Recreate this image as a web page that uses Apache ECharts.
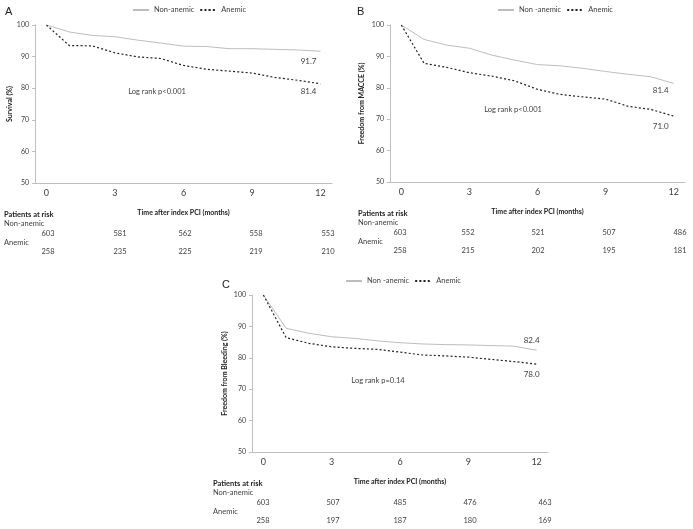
<!DOCTYPE html>
<html><head><meta charset="utf-8">
<script src="https://cdn.jsdelivr.net/npm/echarts@6/dist/echarts.min.js"></script>
<style>html,body{margin:0;padding:0;background:#fff}#c{width:693px;height:529px}</style>
</head><body><div id="c"></div>
<script>
var months = ['0','1','2','3','4','5','6','7','8','9','10','11','12'];
var survNon = [100, 97.8, 96.7, 96.3, 95.2, 94.3, 93.3, 93.2, 92.5, 92.5, 92.3, 92.1, 91.7];
var survAn = [100, 93.5, 93.4, 91.2, 89.9, 89.4, 87.2, 86.0, 85.4, 84.8, 83.4, 82.5, 81.4];
var macceNon = [100, 95.4, 93.6, 92.6, 90.4, 88.8, 87.4, 87.0, 86.2, 85.2, 84.3, 83.5, 81.4];
var macceAn = [100, 87.8, 86.5, 84.8, 83.7, 82.2, 79.5, 77.9, 77.1, 76.4, 74.1, 73.1, 71.0];
var bleedNon = [100, 89.4, 87.8, 86.7, 86.2, 85.4, 84.8, 84.4, 84.2, 84.1, 83.9, 83.7, 82.4];
var bleedAn = [100, 86.4, 84.6, 83.5, 83.0, 82.7, 81.8, 80.9, 80.6, 80.2, 79.5, 78.8, 78.0];
var yTicks = [50, 60, 70, 80, 90, 100];
var riskANon = ['603','581','562','558','553'];
var riskAAn = ['258','235','225','219','210'];
var riskBNon = ['603','552','521','507','486'];
var riskBAn = ['258','215','202','195','181'];
var riskCNon = ['603','507','485','476','463'];
var riskCAn = ['258','197','187','180','169'];
var panelLetters = ['A','B','C'];
var yNames = ['Survival (%)','Freedom from MACCE (%)','Freedom from Bleeding (%)'];
var logRank = ['Log rank p<0.001','Log rank p<0.001','Log rank p=0.14'];
var nonNames = ['Non-anemic','Non -anemic','Non -anemic'];
var anName = 'Anemic';
var xName = 'Time after index PCI (months)';

var TXT = '#404040', FONT = 'Lato, "Open Sans", sans-serif', AX = '#bfbfbf';
var chart = echarts.init(document.getElementById('c'), null, {renderer:'canvas'});

var panels = [
  {left:35, top:25, w:297, h:158, non:survNon, an:survAn, nonOff:[-12,10], anOff:[-12,8], yGap:15,
   lx:132, ly:2, letter:[5,6], lr:[157,92], riskNon:riskANon, riskAn:riskAAn, rx:[48,120,185,256,328], tl:4},
  {left:390, top:25, w:295, h:157, non:macceNon, an:macceAn, nonOff:[-13,7], anOff:[-13,10], yGap:25,
   lx:497, ly:2, letter:[357,6], lr:[513,110], riskNon:riskBNon, riskAn:riskBAn, rx:[400,468,538,609,680], tl:358},
  {left:252, top:295, w:296, h:157, non:bleedNon, an:bleedAn, nonOff:[-5,-10], anOff:[-5,10], yGap:24,
   lx:345, ly:273, letter:[222,279], lr:[378,381], riskNon:riskCNon, riskAn:riskCAn, rx:[263,333,400,470,545], tl:213}
];

function endMark(arr, off){
  var last = arr.length - 1;
  return {symbol:'circle', symbolSize:0, silent:true, animation:false,
    label:{show:true, position:'inside', offset:off, color:TXT, fontFamily:FONT, fontSize:8,
      formatter:function(d){return Number(d.value).toFixed(1);}},
    data:[{coord:[months[last], arr[last]], value:arr[last]}]};
}

var grid=[], xAxis=[], yAxis=[], series=[], legend=[], graphic=[];
panels.forEach(function(p, i){
  grid.push({left:p.left, top:p.top, width:p.w, height:p.h});
  xAxis.push({type:'category', gridIndex:i, data:months, boundaryGap:true,
    axisLine:{lineStyle:{color:AX, width:1}}, axisTick:{show:false},
    axisLabel:{interval:2, color:TXT, fontFamily:FONT, fontSize:9, margin:6},
    name:xName, nameLocation:'middle', nameGap:26,
    nameTextStyle:{color:'#222', fontFamily:FONT, fontSize:7, fontWeight:'bold'}});
  yAxis.push({type:'value', gridIndex:i, min:yTicks[0], max:yTicks[yTicks.length-1], interval:10,
    splitLine:{show:false},
    axisLine:{show:true, lineStyle:{color:AX, width:1}},
    axisTick:{show:true, length:3, lineStyle:{color:AX}},
    axisLabel:{color:TXT, fontFamily:FONT, fontSize:7, margin:6},
    name:yNames[i], nameLocation:'middle', nameGap:p.yGap, nameRotate:90,
    nameTextStyle:{color:'#222', fontFamily:FONT, fontSize:7, fontWeight:'bold'}});
  series.push({name:nonNames[i], type:'line', xAxisIndex:i, yAxisIndex:i, data:p.non,
    symbol:'none', lineStyle:{color:'#bdbdbd', width:1}, itemStyle:{color:'#bdbdbd'}, silent:true, animation:false,
    markPoint:endMark(p.non, p.nonOff)});
  series.push({name:anName, type:'line', xAxisIndex:i, yAxisIndex:i, data:p.an,
    symbol:'none', lineStyle:{color:'#222', width:1.2, type:[2,2.2]}, itemStyle:{color:'#222'}, silent:true, animation:false,
    markPoint:endMark(p.an, p.anOff)});
  legend.push({left:p.lx, top:p.ly, data:[nonNames[i], anName], itemWidth:16, itemHeight:1, itemGap:5,
    textStyle:{color:TXT, fontFamily:FONT, fontSize:7.5}, selectedMode:false, padding:[4,0,0,0]});
  graphic.push({type:'text', left:p.letter[0], top:p.letter[1],
    style:{text:panelLetters[i], fill:'#222', font:'11px "Liberation Sans", Arial, sans-serif'}});
  graphic.push({type:'text', x:p.lr[0], y:p.lr[1],
    style:{text:logRank[i], fill:TXT, font:'7.5px '+FONT, align:'center', verticalAlign:'middle'}});
  var y0 = p.top + p.h;
  graphic.push({type:'text', x:p.tl, y:y0+32, style:{text:'Patients at risk', fill:'#222', font:'bold 7.5px '+FONT, verticalAlign:'middle'}});
  graphic.push({type:'text', x:p.tl, y:y0+41, style:{text:nonNames[0], fill:TXT, font:'7.5px '+FONT, verticalAlign:'middle'}});
  graphic.push({type:'text', x:p.tl, y:y0+60, style:{text:anName, fill:TXT, font:'7.5px '+FONT, verticalAlign:'middle'}});
  p.riskNon.forEach(function(t, k){
    graphic.push({type:'text', x:p.rx[k], y:y0+51, style:{text:t, fill:TXT, font:'7.5px '+FONT, align:'center', verticalAlign:'middle'}});
  });
  p.riskAn.forEach(function(t, k){
    graphic.push({type:'text', x:p.rx[k], y:y0+69, style:{text:t, fill:TXT, font:'7.5px '+FONT, align:'center', verticalAlign:'middle'}});
  });
});

chart.setOption({backgroundColor:'#fff', animation:false, grid:grid, xAxis:xAxis, yAxis:yAxis,
  series:series, legend:legend, graphic:graphic});
</script></body></html>
